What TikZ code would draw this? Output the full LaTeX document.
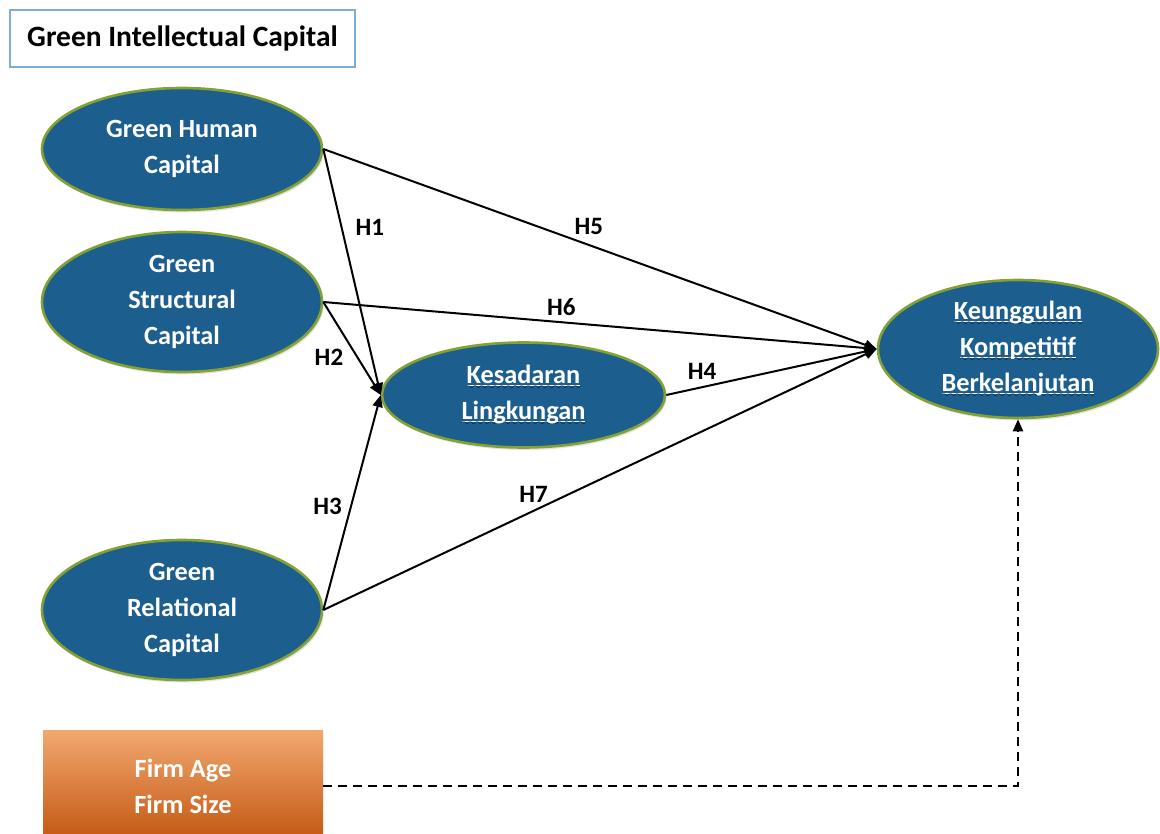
\documentclass[tikz,border=0pt]{standalone}
\usepackage{fontspec}
\setmainfont{Carlito}
\usetikzlibrary{arrows.meta,shapes.geometric,shadows}

\definecolor{ellfill}{RGB}{28,94,142}
\definecolor{ellrim}{RGB}{132,162,52}
\definecolor{boxrim}{RGB}{125,172,212}
\definecolor{ortop}{RGB}{242,168,112}
\definecolor{orbot}{RGB}{194,86,16}

% white underline with a red spell-check wave beneath it
\font\spellwavefont=lasy10
\newsavebox\spellwave
\sbox\spellwave{\spellwavefont\char58}
\newsavebox\spellword
\newcommand\spellmark[1]{\sbox\spellword{#1}\leavevmode
  \rlap{\textcolor{white}{\rule[-3pt]{\wd\spellword}{1.4pt}}}%
  \rlap{\textcolor{red}{\lower6pt\hbox to\wd\spellword{\xleaders\copy\spellwave\hfil}}}%
  \usebox\spellword}

\begin{document}
\begin{tikzpicture}[x=1pt,y=-1pt,
  every node/.style={font=\fontsize{26.3}{36}\selectfont\bfseries},
  construct/.style={ellipse, draw=ellrim, line width=2.6pt, fill=ellfill,
    text=white, align=center, inner sep=0pt, minimum width=280pt,
    drop shadow={opacity=0.22, shadow xshift=1.5pt, shadow yshift=-2.5pt}},
  path/.style={line width=2pt, -{Triangle[length=12pt,width=10pt]}},
  hyp/.style={font=\fontsize{25}{28}\selectfont\bfseries, text=black, inner sep=1pt},
  ctrl/.style={line width=2.2pt, dash pattern=on 9pt off 6pt, -{Triangle[length=12pt,width=10pt]}}
]
\useasboundingbox (0,0) rectangle (1160,834);

% title
\node[draw=boxrim, line width=1.4pt, minimum width=345pt, minimum height=57pt,
      inner sep=0pt, font=\fontsize{29.5}{34}\selectfont\bfseries] (title) at (182.5,38.5)
  {Green Intellectual Capital};

% constructs
\node[construct, minimum height=122pt] (ghc) at (182,149) {Green Human\\Capital};
\node[construct, minimum height=140pt] (gsc) at (182,302) {Green\\Structural\\Capital};
\node[construct, minimum height=140pt] (grc) at (182,610) {Green\\Relational\\Capital};
\node[construct, minimum width=283pt, minimum height=105pt] (kl) at (523.5,395)
  {\spellmark{Kesadaran}\\\spellmark{Lingkungan}};
\node[construct, minimum height=138pt] (kkb) at (1018,349)
  {\spellmark{Keunggulan}\\\spellmark{Kompetitif}\\\spellmark{Berkelanjutan}};

% control variables
\node[minimum width=280pt, minimum height=112pt, top color=ortop, bottom color=orbot,
      text=white, align=center, inner sep=0pt] (ctl) at (183,786) {Firm Age\\Firm Size};

% hypothesised paths
\draw[path] (ghc.east) -- node[hyp, pos=0.32, right=12pt] {H1} (kl.west);
\draw[path] (gsc.east) -- node[hyp, pos=0.59, left=12pt] {H2} (kl.west);
\draw[path] (grc.east) -- node[hyp, pos=0.48, left=7pt] {H3} (kl.west);
\draw[path] (kl.east) -- node[hyp, pos=0.17, above=6pt] {H4} (kkb.west);
\draw[path] (ghc.east) -- node[hyp, pos=0.48, above=8pt] {H5} (kkb.west);
\draw[path] (gsc.east) -- node[hyp, pos=0.43, above=5pt] {H6} (kkb.west);
\draw[path] (grc.east) -- node[hyp, pos=0.38, above=6pt] {H7} (kkb.west);

% controls
\draw[ctrl] (ctl.east) -| (kkb.south);
\end{tikzpicture}
\end{document}
